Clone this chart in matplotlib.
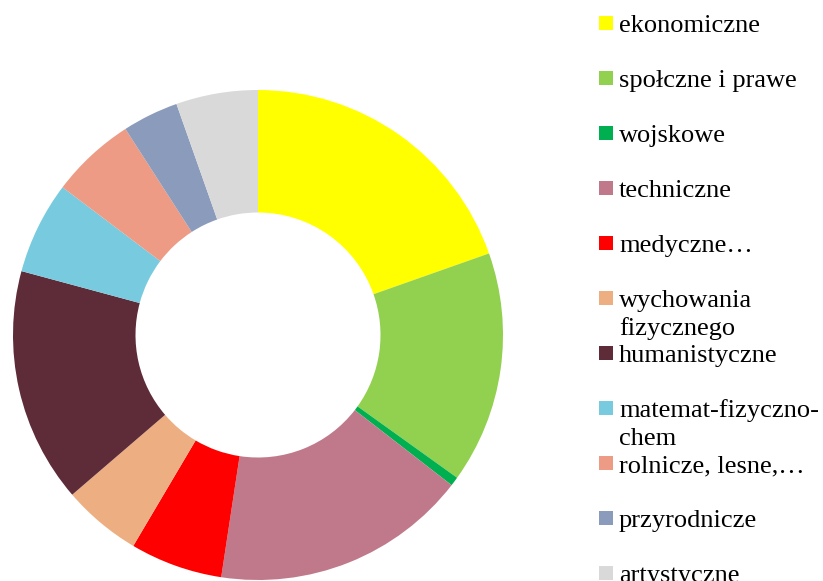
import numpy as np
import matplotlib.pyplot as plt
from matplotlib.patches import Rectangle

plt.rcParams["font.family"] = ["Liberation Serif", "DejaVu Serif"]

# Data (share of the ring, %)
labels = ["ekonomiczne", "społczne i prawe", "wojskowe", "techniczne", "medyczne…",
          "wychowania\nfizycznego", "humanistyczne", "matemat-fizyczno-\nchem",
          "rolnicze, lesne,…", "przyrodnicze", "artystyczne"]
values = [19.6, 15.3, 0.6, 16.9, 6.1, 5.2, 15.5, 6.1, 5.6, 3.7, 5.4]
colors = ["#FFFF00", "#92D050", "#00B050", "#C0798A", "#FF0000", "#EDAF82",
          "#5E2B38", "#78CBDE", "#EE9B85", "#8A9BBB", "#D9D9D9"]

W, H = 823, 581
fig = plt.figure(figsize=(W / 100, H / 100), dpi=100)

# donut: centre (258, 335) px, outer radius 245 px
cx, cy, r = 258, 335, 245
ax = fig.add_axes([(cx - r) / W, (H - cy - r) / H, 2 * r / W, 2 * r / H])
ax.pie(values, colors=colors, startangle=90, counterclock=False, radius=1,
       wedgeprops=dict(width=0.5, linewidth=0))
ax.set_xlim(-1, 1)
ax.set_ylim(-1, 1)
ax.set_aspect("equal")
ax.axis("off")

# legend drawn by hand, fixed slot per entry like the original
for i, (lab, col) in enumerate(zip(labels, colors)):
    yc = 23 + 55 * i
    fig.patches.append(Rectangle((599 / W, 1 - (yc + 7) / H), 14 / W, 14 / H,
                                 transform=fig.transFigure, facecolor=col,
                                 edgecolor="none"))
    for j, line in enumerate(lab.split("\n")):
        fig.text(619 / W, 1 - (yc + 9 + 28 * j) / H, line, fontsize=19,
                 va="baseline", ha="left", color="black")

fig.savefig("out.png", dpi=100)
